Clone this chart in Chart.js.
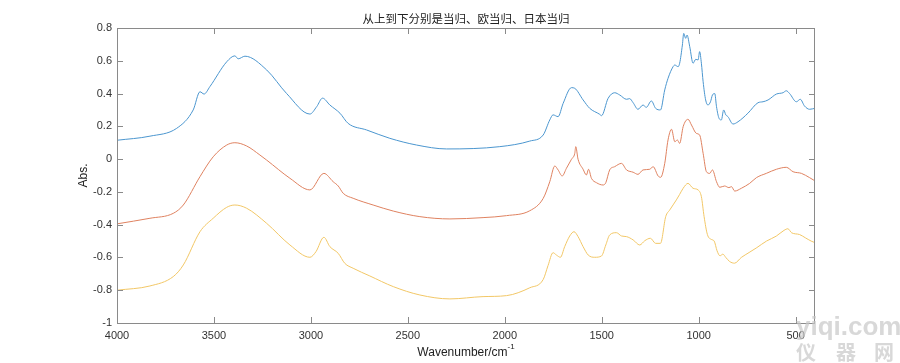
<!DOCTYPE html>
<html>
<head>
<meta charset="utf-8">
<script src="https://cdn.jsdelivr.net/npm/chart.js@4.4.0/dist/chart.umd.min.js"></script>
<style>
  html, body { margin: 0; padding: 0; background: #fff; }
  #wrap { width: 900px; height: 363px; }
</style>
</head>
<body>
<div id="wrap"><canvas id="irChart" width="900" height="363"></canvas></div>
<script>
    // 当归
    const dgWn  = [4000, 3830, 3692, 3607, 3572, 3551, 3521, 3434, 3392, 3375, 3340, 3228, 3125, 3005, 2970, 2940, 2902, 2850, 2808, 2713, 2593, 2455, 2300, 2026, 1871, 1802, 1768, 1751, 1725, 1699, 1656, 1639, 1596, 1562, 1510, 1501, 1467, 1433, 1407, 1372, 1356, 1338, 1313, 1287, 1270, 1244, 1222, 1197, 1175, 1158, 1132, 1123, 1106, 1098, 1084, 1077, 1067, 1060, 1046, 1029, 1015, 1003, 995, 986, 977, 964, 952, 939, 929, 917, 908, 895, 883, 871, 860, 849, 823, 797, 746, 694, 668, 642, 599, 565, 548, 531, 496, 476, 454, 428, 400];
    const dgAbs = [0.115, 0.14, 0.188, 0.30, 0.411, 0.397, 0.442, 0.594, 0.630, 0.612, 0.628, 0.544, 0.40, 0.275, 0.32, 0.372, 0.33, 0.28, 0.218, 0.178, 0.127, 0.086, 0.062, 0.076, 0.11, 0.147, 0.239, 0.27, 0.259, 0.34, 0.436, 0.432, 0.361, 0.31, 0.273, 0.265, 0.371, 0.405, 0.391, 0.365, 0.369, 0.344, 0.304, 0.33, 0.316, 0.355, 0.31, 0.30, 0.422, 0.493, 0.564, 0.574, 0.564, 0.585, 0.696, 0.767, 0.737, 0.757, 0.686, 0.585, 0.609, 0.605, 0.656, 0.585, 0.472, 0.361, 0.33, 0.35, 0.391, 0.40, 0.32, 0.249, 0.239, 0.30, 0.27, 0.259, 0.214, 0.228, 0.28, 0.344, 0.35, 0.361, 0.397, 0.405, 0.417, 0.40, 0.35, 0.365, 0.324, 0.304, 0.31];

    // 欧当归
    const odgWn  = [4000, 3830, 3710, 3658, 3572, 3504, 3434, 3392, 3331, 3263, 3228, 3108, 3005, 2933, 2885, 2859, 2833, 2782, 2679, 2575, 2438, 2283, 2112, 1991, 1871, 1802, 1768, 1742, 1725, 1704, 1682, 1656, 1639, 1634, 1622, 1596, 1579, 1568, 1553, 1527, 1493, 1479, 1459, 1433, 1398, 1372, 1338, 1313, 1287, 1252, 1235, 1209, 1196, 1175, 1158, 1140, 1123, 1110, 1098, 1080, 1055, 1037, 1012, 995, 977, 960, 943, 929, 908, 891, 866, 844, 831, 814, 780, 737, 702, 651, 599, 548, 513, 470, 428, 400];
    const odgAbs = [-0.395, -0.361, -0.331, -0.28, -0.107, 0.014, 0.086, 0.10, 0.08, 0.025, -0.006, -0.117, -0.188, -0.087, -0.138, -0.164, -0.209, -0.239, -0.28, -0.317, -0.351, -0.365, -0.357, -0.345, -0.315, -0.24, -0.138, -0.042, -0.066, -0.103, -0.056, -0.001, 0.035, 0.076, -0.001, -0.062, -0.097, -0.062, -0.117, -0.144, -0.158, -0.144, -0.066, -0.046, -0.026, -0.066, -0.08, -0.093, -0.066, -0.062, -0.046, -0.103, -0.111, -0.026, 0.117, 0.182, 0.106, 0.117, 0.096, 0.198, 0.243, 0.208, 0.157, 0.147, 0.035, -0.077, -0.087, -0.066, -0.138, -0.172, -0.164, -0.174, -0.168, -0.195, -0.178, -0.148, -0.113, -0.087, -0.062, -0.05, -0.077, -0.087, -0.113, -0.133];

    // 日本当归
    const rdgWn  = [4000, 3830, 3710, 3658, 3572, 3504, 3434, 3392, 3331, 3228, 3108, 3005, 2974, 2933, 2902, 2859, 2825, 2782, 2696, 2575, 2438, 2283, 2112, 1991, 1871, 1802, 1777, 1751, 1734, 1713, 1691, 1665, 1643, 1622, 1596, 1570, 1536, 1501, 1479, 1459, 1424, 1398, 1372, 1338, 1304, 1278, 1249, 1222, 1197, 1170, 1149, 1115, 1098, 1080, 1055, 1029, 1003, 986, 972, 955, 935, 920, 905, 890, 875, 860, 840, 815, 780, 740, 700, 650, 600, 560, 540, 520, 480, 450, 420, 400];
    const rdgAbs = [-0.80, -0.774, -0.717, -0.646, -0.443, -0.361, -0.294, -0.28, -0.30, -0.392, -0.524, -0.599, -0.565, -0.477, -0.534, -0.575, -0.636, -0.666, -0.713, -0.778, -0.829, -0.853, -0.839, -0.833, -0.785, -0.735, -0.65, -0.571, -0.585, -0.599, -0.534, -0.469, -0.443, -0.473, -0.534, -0.585, -0.599, -0.591, -0.524, -0.463, -0.449, -0.469, -0.473, -0.493, -0.524, -0.498, -0.483, -0.514, -0.514, -0.351, -0.31, -0.249, -0.215, -0.178, -0.148, -0.178, -0.188, -0.229, -0.351, -0.46, -0.49, -0.50, -0.56, -0.59, -0.58, -0.60, -0.625, -0.635, -0.60, -0.57, -0.54, -0.50, -0.47, -0.435, -0.425, -0.45, -0.46, -0.48, -0.50, -0.51];

    const xTicks = [4000, 3500, 3000, 2500, 2000, 1500, 1000, 500];
    const yTicks = [0.8, 0.6, 0.4, 0.2, 0, -0.2, -0.4, -0.6, -0.8, -1];

    const toPoints = (wn, abs) => wn.map((w, i) => ({ x: w, y: abs[i] }));

    // 边框、内向刻度、标题、坐标轴标签
    const matlabAxes = {
        id: 'matlabAxes',
        afterDraw(chart) {
            const ctx = chart.ctx;
            const a = chart.chartArea;
            const xs = chart.scales.x, ys = chart.scales.y;
            ctx.save();
            ctx.strokeStyle = '#8a8a8a';
            ctx.lineWidth = 1;
            ctx.strokeRect(a.left + 0.5, a.top + 0.5, a.right - a.left - 1, a.bottom - a.top);
            ctx.beginPath();
            xTicks.forEach(v => {
                const px = Math.round(xs.getPixelForValue(v)) + 0.5;
                ctx.moveTo(px, a.bottom); ctx.lineTo(px, a.bottom - 6);
                ctx.moveTo(px, a.top); ctx.lineTo(px, a.top + 6);
            });
            yTicks.forEach(v => {
                const py = Math.round(ys.getPixelForValue(v)) + 0.5;
                ctx.moveTo(a.left, py); ctx.lineTo(a.left + 6, py);
                ctx.moveTo(a.right, py); ctx.lineTo(a.right - 6, py);
            });
            ctx.stroke();

            const cx = (a.left + a.right) / 2;
            ctx.fillStyle = '#222';
            ctx.textAlign = 'center';
            ctx.textBaseline = 'middle';
            ctx.font = '11.5px "Noto Sans CJK SC"';
            ctx.fillText('从上到下分别是当归、欧当归、日本当归', cx, 19);

            ctx.font = '12px "Liberation Sans", Arial, sans-serif';
            const base = 'Wavenumber/cm';
            const w1 = ctx.measureText(base).width;
            ctx.font = '8px "Liberation Sans", Arial, sans-serif';
            const w2 = ctx.measureText('-1').width;
            const sx = cx - (w1 + w2) / 2;
            ctx.textAlign = 'left';
            ctx.font = '12px "Liberation Sans", Arial, sans-serif';
            ctx.fillText(base, sx, 353);
            ctx.font = '8px "Liberation Sans", Arial, sans-serif';
            ctx.fillText('-1', sx + w1, 347);

            ctx.save();
            ctx.translate(84, (a.top + a.bottom) / 2);
            ctx.rotate(-Math.PI / 2);
            ctx.textAlign = 'center';
            ctx.font = '12px "Liberation Sans", Arial, sans-serif';
            ctx.fillText('Abs.', 0, 0);
            ctx.restore();

            // 水印
            ctx.fillStyle = 'rgba(200,200,200,0.7)';
            ctx.textAlign = 'left';
            ctx.font = 'bold 26px "Liberation Sans", Arial, sans-serif';
            ctx.fillText('yiqi.com', 796, 328);
            ctx.font = 'bold 20px "Noto Sans CJK SC"';
            ctx.fillText('仪', 796, 352);
            ctx.fillText('器', 836, 352);
            ctx.fillText('网', 874, 352);
            ctx.restore();
        }
    };

    const ctx = document.getElementById('irChart').getContext('2d');
    new Chart(ctx, {
        type: 'line',
        data: {
            datasets: [
                { label: '当归', data: toPoints(dgWn, dgAbs), borderColor: '#4b96cf' },
                { label: '欧当归', data: toPoints(odgWn, odgAbs), borderColor: '#df8260' },
                { label: '日本当归', data: toPoints(rdgWn, rdgAbs), borderColor: '#f2c766' }
            ]
        },
        options: {
            responsive: false,
            animation: false,
            layout: { padding: { top: 28, right: 85, left: 0, bottom: 0 } },
            elements: {
                point: { radius: 0 },
                line: { borderWidth: 1, cubicInterpolationMode: 'monotone', fill: false }
            },
            plugins: { legend: { display: false }, tooltip: { enabled: false } },
            scales: {
                x: {
                    type: 'linear',
                    reverse: true,
                    min: 400,
                    max: 4000,
                    grid: { display: false, drawTicks: false },
                    border: { display: false },
                    afterBuildTicks: s => { s.ticks = xTicks.map(v => ({ value: v })); },
                    afterFit: s => { s.height = 40; },
                    ticks: {
                        padding: 6,
                        maxRotation: 0,
                        autoSkip: false,
                        color: '#333',
                        font: { family: '"Liberation Sans", Arial, sans-serif', size: 11 },
                        callback: v => String(v)
                    }
                },
                y: {
                    min: -1,
                    max: 0.8,
                    grid: { display: false, drawTicks: false },
                    border: { display: false },
                    afterBuildTicks: s => { s.ticks = yTicks.map(v => ({ value: v })); },
                    afterFit: s => { s.width = 117; },
                    ticks: {
                        padding: 5,
                        autoSkip: false,
                        color: '#333',
                        font: { family: '"Liberation Sans", Arial, sans-serif', size: 11 },
                        callback: v => String(Math.round(v * 10) / 10)
                    }
                }
            }
        },
        plugins: [matlabAxes]
    });
</script>
</body>
</html>
